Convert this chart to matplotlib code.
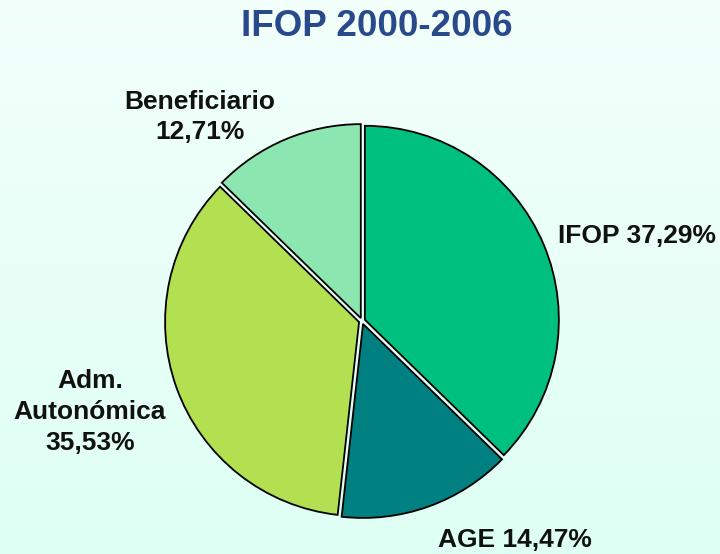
import numpy as np
import matplotlib
matplotlib.use('Agg')
import matplotlib.pyplot as plt
from matplotlib.colors import LinearSegmentedColormap

# Data
labels = ['IFOP', 'AGE', 'Adm. Autonómica', 'Beneficiario']
shares = [37.29, 14.47, 35.53, 12.71]
colors = ['#00C080', '#008080', '#B3E050', '#8CE6B0']
label_texts = ['IFOP 37,29%', 'AGE 14,47%', 'Adm.\nAutonómica\n35,53%', 'Beneficiario\n12,71%']

plt.rcParams['font.family'] = ['Liberation Sans', 'DejaVu Sans']

W, H = 720, 554
fig = plt.figure(figsize=(W / 100, H / 100), dpi=100)

# background gradient
bg = fig.add_axes([0, 0, 1, 1])
grad = np.linspace(0, 1, 256).reshape(-1, 1)
cmap = LinearSegmentedColormap.from_list('bg', ['#F3FFFC', '#DEFFF4'])
bg.imshow(grad, aspect='auto', cmap=cmap, extent=[0, 1, 0, 1], origin='upper')
bg.axis('off')

# pie
cx, cy, r = 362, 321, 194
half = 205
ax = fig.add_axes([(cx - half) / W, (H - cy - half) / H, 2 * half / W, 2 * half / H])
ax.set_facecolor('none')
ax.pie(shares, colors=colors, startangle=90, counterclock=False,
       explode=[0.016] * len(shares), radius=1,
       wedgeprops=dict(edgecolor='black', linewidth=1.3))
lim = half / r
ax.set_xlim(-lim, lim)
ax.set_ylim(-lim, lim)
ax.set_aspect('equal')
ax.axis('off')

fig.text(377 / W, 1 - 27 / H, 'IFOP 2000-2006', ha='center', va='center',
         fontsize=26.5, fontweight='bold', color='#284A8A')

label_pos = [(637, 236), (515, 540), (90, 412), (200, 117)]
for txt, (x, y) in zip(label_texts, label_pos):
    fig.text(x / W, 1 - y / H, txt, ha='center', va='center', fontsize=19,
             fontweight='bold', color='#111111', linespacing=1.35)

fig.savefig('out.png', dpi=100)
